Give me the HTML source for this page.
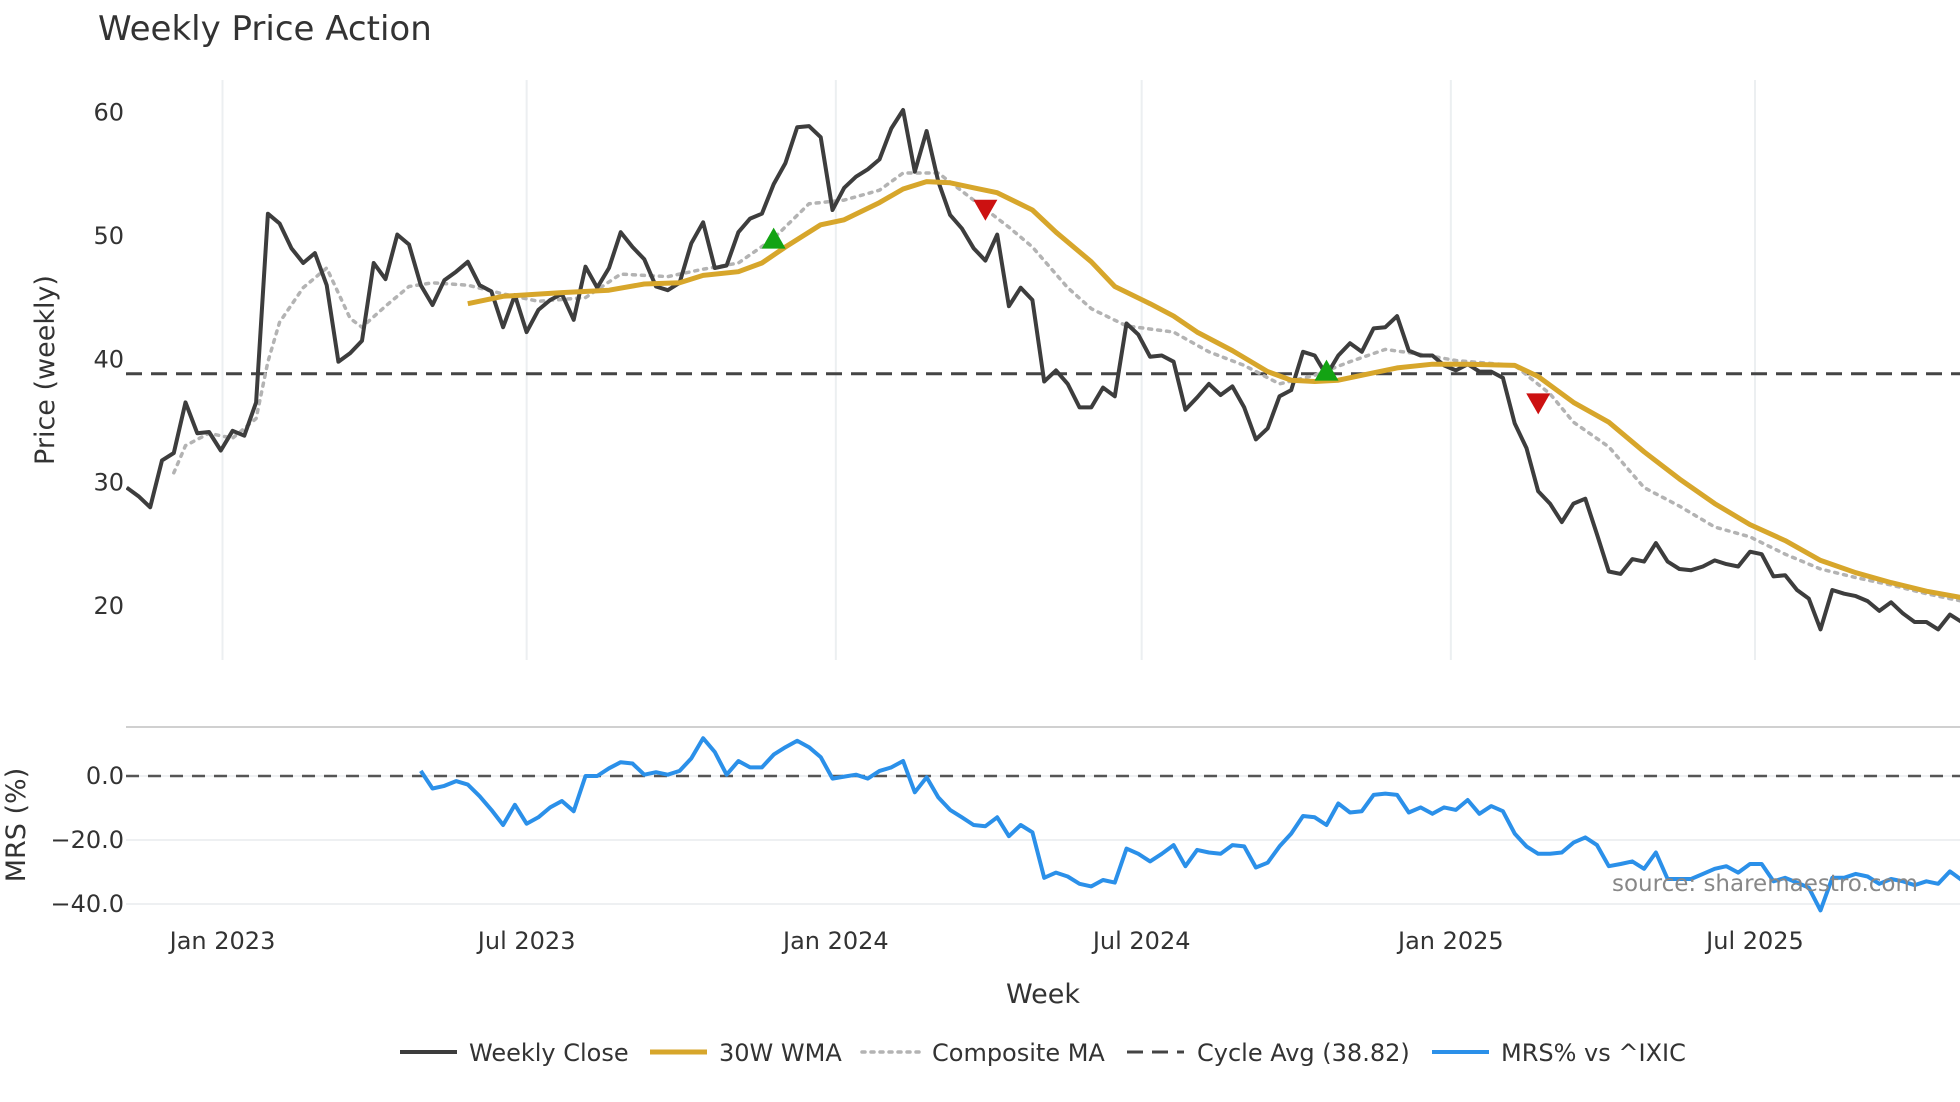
<!DOCTYPE html>
<html><head><meta charset="utf-8"><style>
html,body{margin:0;padding:0;background:#fff;}
svg{display:block;font-family:"DejaVu Sans","Liberation Sans",sans-serif;}
</style></head><body>
<svg id="chart" width="1960" height="1102" viewBox="0 0 1960 1102" xmlns="http://www.w3.org/2000/svg">
<text x="98" y="40" font-size="34" fill="#333">Weekly Price Action</text>
<g id="grid"></g>
<g id="price"></g>
<g id="mrs"></g>
<g id="xaxis"></g>
<text transform="translate(54,370) rotate(-90)" text-anchor="middle" font-size="27" fill="#333">Price (weekly)</text>
<text transform="translate(25,825) rotate(-90)" text-anchor="middle" font-size="27" fill="#333">MRS (%)</text>
<text x="1043" y="1003" text-anchor="middle" font-size="27" fill="#333">Week</text>
<text x="1612" y="891" font-size="23" fill="#888">source: sharemaestro.com</text>
<g id="legend"></g>
</svg>
<script>
const closeValues=[29.6,28.9,28,31.8,32.4,36.5,34,34.1,32.6,34.2,33.8,36.5,51.8,51,49,47.8,48.6,46,39.8,40.5,41.5,47.8,46.5,50.1,49.3,46,44.4,46.4,47.1,47.9,46,45.5,42.6,45.2,42.2,44,44.8,45.3,43.2,47.5,45.8,47.4,50.3,49.1,48.1,45.9,45.6,46.2,49.4,51.1,47.4,47.6,50.3,51.4,51.8,54.2,55.9,58.8,58.9,58,52.1,53.9,54.8,55.4,56.2,58.7,60.2,55.2,58.5,54.4,51.7,50.6,49,48,50.1,44.3,45.8,44.8,38.2,39.1,38,36.1,36.1,37.7,37,42.9,42,40.2,40.3,39.8,35.9,36.9,38,37.1,37.8,36.1,33.5,34.4,37,37.5,40.6,40.3,38.7,40.3,41.3,40.6,42.5,42.6,43.5,40.7,40.3,40.3,39.5,39.1,39.6,39,39,38.5,34.8,32.8,29.3,28.3,26.8,28.3,28.7,25.8,22.8,22.6,23.8,23.6,25.1,23.6,23,22.9,23.2,23.7,23.4,23.2,24.4,24.2,22.4,22.5,21.3,20.6,18.1,21.3,21,20.8,20.4,19.6,20.3,19.4,18.7,18.7,18.1,19.3,18.7];
const wmaWeeks=[29,32,37,41,44,47,49,52,54,56,59,61,64,66,68,70,72,74,77,79,82,84,87,89,91,94,97,99,101,103,106,108,111,114,118,120,123,126,129,132,135,138,141,144,147,150,153,157];
const wmaValues=[44.5,45.1,45.4,45.6,46.1,46.2,46.8,47.1,47.8,49.1,50.9,51.3,52.7,53.8,54.4,54.3,53.9,53.5,52.1,50.3,47.9,45.9,44.5,43.5,42.2,40.7,39,38.3,38.2,38.3,38.9,39.3,39.6,39.6,39.5,38.6,36.5,34.9,32.5,30.3,28.3,26.6,25.3,23.7,22.7,21.9,21.2,20.5];
const compWeeks=[4,5,7,9,11,12,13,15,17,19,20,22,24,26,29,32,35,39,42,46,49,52,55,58,61,64,66,69,72,75,77,80,82,85,89,92,95,98,101,104,107,110,113,118,121,123,126,129,132,135,138,141,144,147,150,153,157];
const compValues=[30.8,33,34,33.6,35.2,39.8,43,45.8,47.4,43.3,42.6,44.3,45.9,46.2,46,45.3,44.7,45,46.9,46.7,47.3,47.8,49.8,52.6,52.9,53.7,55.1,55.1,52.9,50.7,49.1,45.8,44.1,42.7,42.2,40.6,39.5,38,38.7,39.8,40.8,40.4,39.9,39.5,37.2,34.9,32.9,29.6,28.1,26.4,25.6,24.2,23,22.3,21.7,21,20.2];
const cycleAvg=38.82;
const buyWeeks=[55,102]; const buyValues=[49.7,39];
const sellWeeks=[73,120]; const sellValues=[52.2,36.5];
const mrsStart=25;
const mrsValues=[1.6,-3.9,-3.1,-1.6,-2.7,-6.3,-10.6,-15.3,-9,-14.9,-12.9,-9.8,-7.8,-11,0,0,2.4,4.3,3.9,0.4,1.2,0.4,1.6,5.5,11.8,7.5,0.4,4.7,2.7,2.7,6.7,9,11,9,5.9,-0.8,-0.2,0.4,-0.8,1.6,2.7,4.7,-5.1,-0.4,-6.7,-10.6,-12.9,-15.3,-15.7,-12.9,-18.8,-15.3,-17.6,-31.8,-30.2,-31.4,-33.7,-34.5,-32.5,-33.3,-22.7,-24.3,-26.7,-24.3,-21.6,-28.2,-23.1,-23.9,-24.3,-21.6,-22,-28.6,-27.1,-22,-18,-12.5,-12.9,-15.3,-8.6,-11.4,-11,-5.9,-5.5,-5.9,-11.4,-9.8,-11.8,-9.8,-10.6,-7.5,-11.8,-9.4,-11,-18,-22,-24.3,-24.3,-23.9,-20.8,-19.2,-21.6,-28.2,-27.5,-26.7,-29,-23.9,-32.2,-32.2,-32.2,-30.6,-29,-28.2,-30.2,-27.5,-27.5,-32.9,-31.8,-33.3,-34.9,-42,-31.8,-31.8,-30.6,-31.4,-33.7,-32.2,-32.9,-34.1,-32.9,-33.7,-29.8,-32.5];
const priceTicks=[20,30,40,50,60];
const mrsTicks=[0,-20,-40];
const mrsTickLabels=["0.0","\u221220.0","\u221240.0"];
const xTickLabels=["Jan 2023","Jul 2023","Jan 2024","Jul 2024","Jan 2025","Jul 2025"];
const xTickDates=["2023-01-01","2023-07-01","2024-01-01","2024-07-01","2025-01-01","2025-07-01"];
const startDate="2022-11-05";

const NS="http://www.w3.org/2000/svg";
const L=126,R=1960;
const t0=Date.parse("2023-01-01"),t1=Date.parse("2025-07-01");
const xT=t=>222.5+(t-t0)/(t1-t0)*(1755-222.5);
const s0=Date.parse(startDate);
const xi=i=>xT(s0+i*7*86400000);
const yP=v=>606-(v-20)*(606-112.5)/40;
function yMrs(v){return 776-v*3.2;}
function mk(tag,attrs,parent){const e=document.createElementNS(NS,tag);for(const k in attrs)e.setAttribute(k,attrs[k]);parent.appendChild(e);return e;}
const grid=document.getElementById('grid'),price=document.getElementById('price'),mrs=document.getElementById('mrs'),xaxis=document.getElementById('xaxis'),legend=document.getElementById('legend');
const defs=mk('defs',{},document.getElementById('chart'));
const cp=mk('clipPath',{id:'clipP'},defs);mk('rect',{x:L,y:60,width:R-L,height:880},cp);
price.setAttribute('clip-path','url(#clipP)');mrs.setAttribute('clip-path','url(#clipP)');

xTickDates.forEach((d,i)=>{const x=xT(Date.parse(d));
 const g=mk('line',{x1:x,x2:x,y1:80,y2:660,stroke:'#eceff1','stroke-width':2},grid);
 
 
 const t=mk('text',{x:x,y:949,'text-anchor':'middle','font-size':24,fill:'#333'},xaxis);t.textContent=xTickLabels[i];
 
 
});
priceTicks.forEach(v=>{const t=mk('text',{x:124,y:yP(v)+8,'text-anchor':'end','font-size':24,fill:'#333'},grid);t.textContent=v;
 
 
});
mk('line',{x1:L,x2:R,y1:727,y2:727,stroke:'#d0d0d0','stroke-width':2},grid);
mrsTicks.forEach((v,i)=>{const y=yMrs(v);
 const l=mk('line',{x1:L,x2:R,y1:y,y2:y,stroke:'#eef0f2','stroke-width':2},grid);
 
 
 const t=mk('text',{x:124,y:y+8,'text-anchor':'end','font-size':24,fill:'#333'},grid);t.textContent=mrsTickLabels[i];
 
 
});
function path(xs,ys,style,parent,name){let d='';xs.forEach((x,i)=>{d+=(i?'L':'M')+x.toFixed(1)+','+ys[i].toFixed(1);});
 const p=mk('path',Object.assign({d:d,fill:'none','stroke-linejoin':'round'},style),parent);
 
 
 return p;}
const cy=mk('line',{x1:L,x2:R,y1:yP(cycleAvg),y2:yP(cycleAvg),stroke:'#444','stroke-width':3,'stroke-dasharray':'16 9'},price);


path(compWeeks.map(xi),compValues.map(yP),{stroke:'#b3b3b3','stroke-width':3.5,'stroke-dasharray':'3 6','stroke-linecap':'round'},price,'composite-ma-line');
path(closeValues.map((v,i)=>xi(i)),closeValues.map(yP),{stroke:'#3d3d3d','stroke-width':4},price,'weekly-close-line');
path(wmaWeeks.map(xi),wmaValues.map(yP),{stroke:'#d7a62b','stroke-width':5},price,'wma-30w-line');
buyWeeks.forEach((w,i)=>{const x=xi(w),y=yP(buyValues[i]);
 const p=mk('path',{d:`M${x-12},${y+9}L${x+12},${y+9}L${x},${y-12}Z`,fill:'#13a313'},price);
 
 
});
sellWeeks.forEach((w,i)=>{const x=xi(w),y=yP(sellValues[i]);
 const p=mk('path',{d:`M${x-12},${y-9}L${x+12},${y-9}L${x},${y+12}Z`,fill:'#cc1111'},price);
 
 
});
const z=mk('line',{x1:L,x2:R,y1:yMrs(0),y2:yMrs(0),stroke:'#555','stroke-width':2.5,'stroke-dasharray':'13 9'},mrs);


path(mrsValues.map((v,i)=>xi(mrsStart+i)),mrsValues.map(yMrs),{stroke:'#2b90e9','stroke-width':4},mrs,'mrs-line');
const items=[["Weekly Close",{stroke:'#3d3d3d','stroke-width':4},400,469],["30W WMA",{stroke:'#d7a62b','stroke-width':5},650,719],["Composite MA",{stroke:'#b3b3b3','stroke-width':3.5,'stroke-dasharray':'3 6','stroke-linecap':'round'},862,932],["Cycle Avg (38.82)",{stroke:'#444','stroke-width':3,'stroke-dasharray':'16 9'},1127,1197],["MRS% vs ^IXIC",{stroke:'#2b90e9','stroke-width':4},1432,1501]];
items.forEach(it=>{const g=mk('g',{},legend);
 
 
 mk('line',Object.assign({x1:it[2],x2:it[2]+57,y1:1052,y2:1052},it[1]),g);
 const t=mk('text',{x:it[3],y:1061,'font-size':24,fill:'#333'},g);t.textContent=it[0];
});
</script>
</body></html>
